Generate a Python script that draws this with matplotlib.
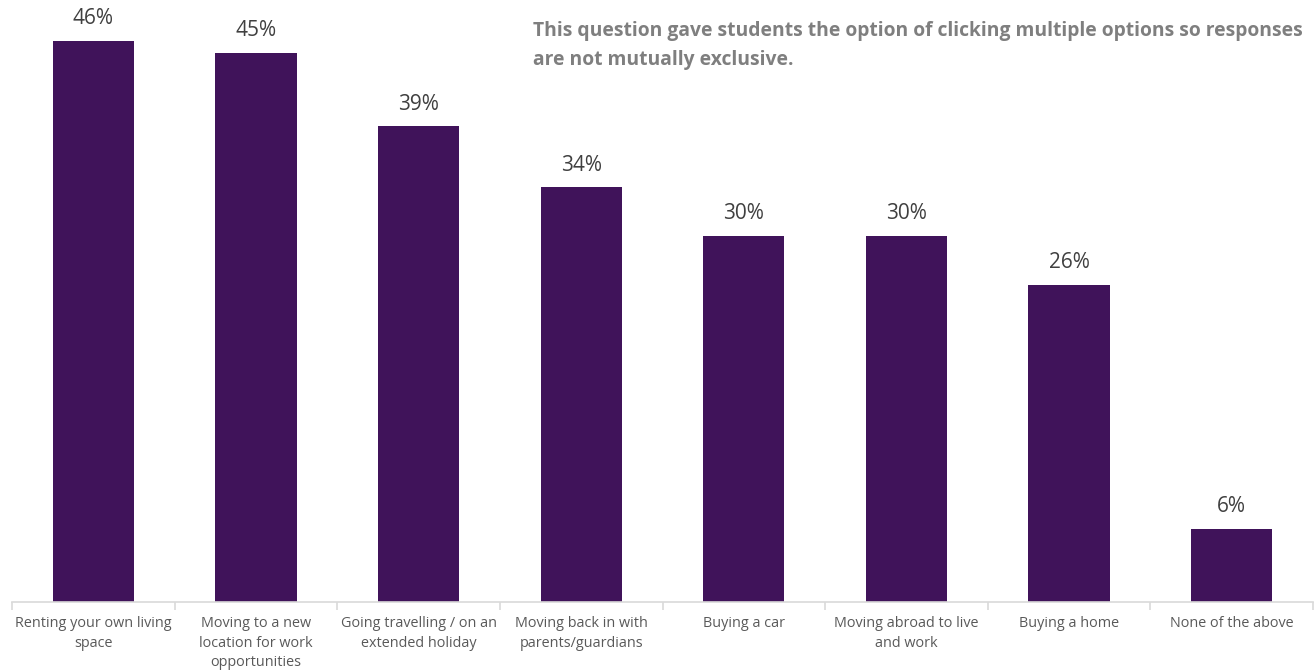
import numpy as np
import matplotlib.pyplot as plt

plt.rcParams['font.family'] = ['Open Sans', 'DejaVu Sans']

categories = ['Renting your own living\nspace',
              'Moving to a new\nlocation for work\nopportunities',
              'Going travelling / on an\nextended holiday',
              'Moving back in with\nparents/guardians',
              'Buying a car',
              'Moving abroad to live\nand work',
              'Buying a home',
              'None of the above']
values = [46, 45, 39, 34, 30, 30, 26, 6]
note = ('This question gave students the option of clicking multiple options so responses\n'
        'are not mutually exclusive.')

fig = plt.figure(figsize=(13.14, 6.71), dpi=100)
ax = fig.add_axes([12 / 1314, 1 - 602 / 671, 1301 / 1314, 602 / 671])

x = np.arange(len(values))
bars = ax.bar(x, values, width=0.5, color='#40135a')
for xi, v in zip(x, values):
    ax.text(xi, v + 0.95, f'{v}%', ha='center', va='bottom', fontsize=15, color='#404040')

ax.set_xlim(-0.5, len(values) - 0.5)
ax.set_ylim(0, 49.35)
ax.set_yticks([])
for s in ['top', 'right', 'left']:
    ax.spines[s].set_visible(False)
ax.spines['bottom'].set_color('#d9d9d9')
ax.spines['bottom'].set_linewidth(1.2)

ax.set_xticks(x)
ax.set_xticklabels(categories, fontsize=10.4, color='#595959', linespacing=1.42)
ax.tick_params(axis='x', which='major', length=0, pad=10)
ax.set_xticks(np.arange(len(values) + 1) - 0.5, minor=True)
ax.tick_params(axis='x', which='minor', length=6, color='#d9d9d9', width=1.2)
for lbl in ax.get_xticklabels():
    lbl.set_verticalalignment('top')

fig.text(533 / 1314, 1 - 21 / 671, note, ha='left', va='top', fontsize=13.9,
         fontweight='bold', color='#7f7f7f', linespacing=1.6)

fig.savefig('out.png', dpi=100)
